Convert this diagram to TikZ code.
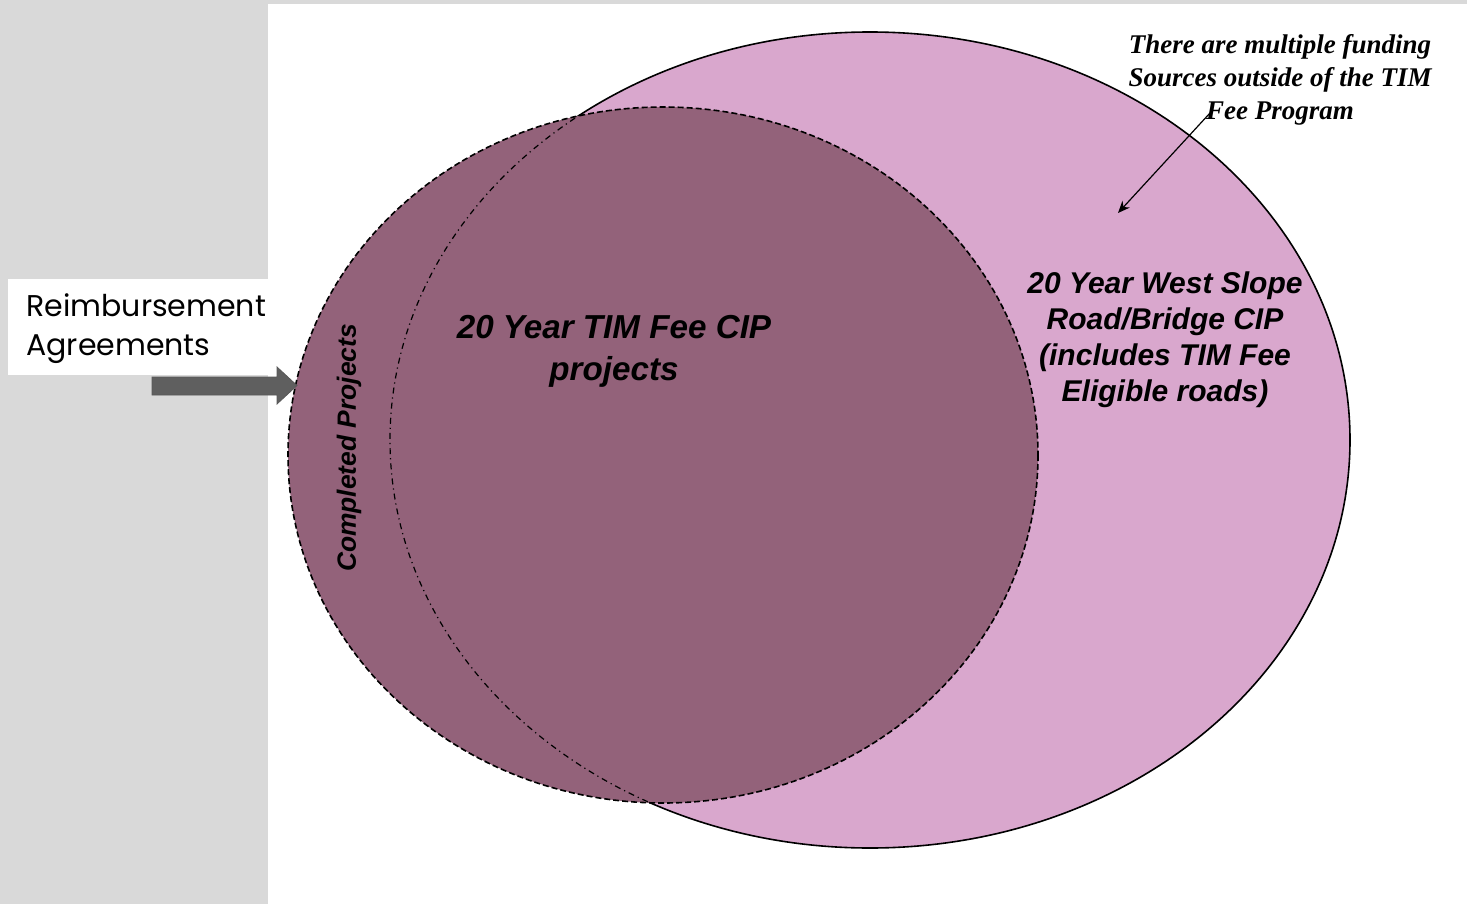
\documentclass[tikz,border=0pt]{standalone}
\usepackage{fontspec}
\setmainfont{Liberation Sans}
\newfontfamily\notefont{Liberation Serif}
\newfontfamily\labelfont{Poppins}
\usetikzlibrary{arrows.meta}
\definecolor{bggray}{HTML}{D9D9D9}
\definecolor{darkplum}{HTML}{93627A}
\definecolor{lightplum}{HTML}{D9A7CD}
\definecolor{arrowgray}{HTML}{5F5F5F}
\tikzset{
  bigtxt/.style={font=\fontsize{16.6}{21}\selectfont\bfseries\itshape, align=center, text=black},
  righttxt/.style={font=\fontsize{15}{18}\selectfont\bfseries\itshape, align=center, text=black},
  notetxt/.style={font=\notefont\fontsize{13.5}{16.5}\selectfont\bfseries\itshape, align=center, text=black},
  reimb/.style={font=\labelfont\fontsize{15}{19.5}\selectfont, align=left, text=black, inner sep=0pt, anchor=north west},
}
\begin{document}
\begin{tikzpicture}[x=0.5pt,y=-0.5pt]
\useasboundingbox (0,0) rectangle (1467,904);
% background
\fill[bggray] (0,0) rectangle (1467,904);
\fill[white] (268,4) rectangle (1467,904);
% big ellipse
\path[fill=lightplum, draw=black, line width=0.8pt] (870,440) ellipse [x radius=480, y radius=408];
% dark ellipse
\path[fill=darkplum, draw=black, line width=0.8pt, dash pattern=on 3pt off 1.5pt] (663,455) ellipse [x radius=375, y radius=348];
% dash-dot continuation of big ellipse inside dark ellipse
\begin{scope}
\clip (663,455) ellipse [x radius=376, y radius=349];
\draw[black, line width=0.6pt, dash dot] (870,440) ellipse [x radius=480, y radius=408];
\end{scope}
% texts
\node[bigtxt] (tim) at (614,351) {20 Year TIM Fee CIP\\projects};
\node[righttxt] (ws) at (1165,340) {20 Year West Slope\\Road/Bridge CIP\\(includes TIM Fee\\Eligible roads)};
\node[font=\fontsize{13.2}{15}\selectfont\bfseries\itshape, rotate=90] (cp) at (349,448) {Completed Projects};
\node[notetxt] (note) at (1280,80) {There are multiple funding\\Sources outside of the TIM\\Fee Program};
\coordinate (notefrom) at (1210,113);
\coordinate (noteto) at (1118,213);
\draw[-{Stealth[length=6pt,width=5pt]}, line width=0.6pt] (notefrom) -- (noteto);
% reimbursement label
\fill[white] (8,279) rectangle (268,375);
\node[reimb] (ra) at (26,293) {Reimbursement\\Agreements};
% block arrow
\path[fill=arrowgray, draw=black!65, line width=0.4pt]
  (152,377) -- (277,377) -- (277,367) -- (297,385.5) -- (277,404) -- (277,395) -- (152,395) -- cycle;
\end{tikzpicture}
\end{document}
